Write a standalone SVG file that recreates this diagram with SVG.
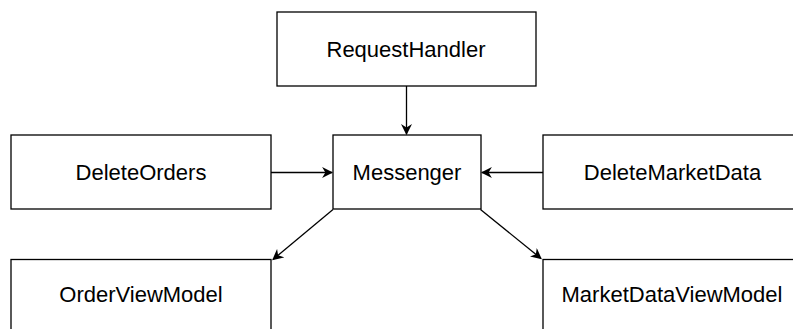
<svg xmlns="http://www.w3.org/2000/svg" width="793" height="329" viewBox="0 0 793 329">
<defs>
<style>
.box{fill:#fff;stroke:#000;stroke-width:1.3}
.lbl{font-family:"Liberation Sans",Arial,sans-serif;font-size:22px;fill:#000;text-anchor:middle}
.edge{fill:none;stroke:#000;stroke-width:1.3}
</style>
<marker id="arr" viewBox="0 0 10 10" refX="9" refY="5" markerWidth="11" markerHeight="11" markerUnits="userSpaceOnUse" orient="auto">
<path d="M0,0 L10,5 L0,10 L3,5 Z" fill="#000"/>
</marker>
</defs>
<rect width="793" height="329" fill="#fff"/>
<g id="connectors">
<line class="edge" x1="406.5" y1="86" x2="406.5" y2="134" marker-end="url(#arr)"/>
<line class="edge" x1="271" y1="172.5" x2="332" y2="172.5" marker-end="url(#arr)"/>
<line class="edge" x1="543" y1="172.5" x2="482" y2="172.5" marker-end="url(#arr)"/>
<line class="edge" x1="333" y1="209.5" x2="273" y2="259.5" marker-end="url(#arr)"/>
<line class="edge" x1="480.5" y1="209.5" x2="541" y2="258.5" marker-end="url(#arr)"/>
</g>
<g id="RequestHandler">
<rect class="box" x="277" y="12" width="259" height="74"/>
<text class="lbl" x="406" y="56.5">RequestHandler</text>
</g>
<g id="DeleteOrders">
<rect class="box" x="11" y="135" width="260" height="74"/>
<text class="lbl" x="141" y="180">DeleteOrders</text>
</g>
<g id="Messenger">
<rect class="box" x="333" y="135" width="148" height="74"/>
<text class="lbl" x="407" y="180">Messenger</text>
</g>
<g id="DeleteMarketData">
<rect class="box" x="543" y="135" width="260" height="74"/>
<text class="lbl" x="672.5" y="180">DeleteMarketData</text>
</g>
<g id="OrderViewModel">
<rect class="box" x="11" y="259.5" width="260" height="74"/>
<text class="lbl" x="141" y="302">OrderViewModel</text>
</g>
<g id="MarketDataViewModel">
<rect class="box" x="543" y="259.5" width="260" height="74"/>
<text class="lbl" x="672" y="302">MarketDataViewModel</text>
</g>
</svg>
